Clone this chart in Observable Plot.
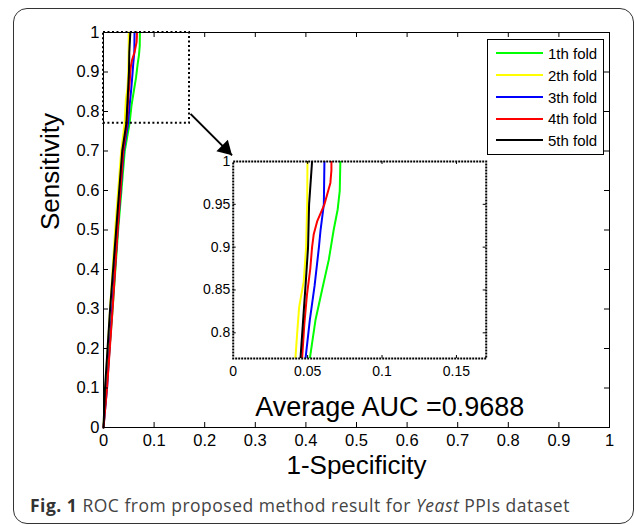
<!DOCTYPE html>
<html><head><meta charset="utf-8">
<script src="https://cdn.jsdelivr.net/npm/d3@7"></script>
<script src="https://cdn.jsdelivr.net/npm/@observablehq/plot@0.6"></script>
<style>
body{margin:0;background:#fff;}
#wrap{position:relative;width:634px;height:525px;overflow:hidden;font-family:Arial,"Liberation Sans",sans-serif;}
#border{position:absolute;left:13px;top:8px;width:621px;height:516px;box-sizing:border-box;border:1.5px solid #333;border-radius:14px;}
#main{position:absolute;left:0;top:0;}
#inset{position:absolute;left:190px;top:150px;}
#legend{position:absolute;left:487px;top:39px;width:117px;height:116px;box-sizing:border-box;border:1px solid #000;background:#fff;}
.row{position:absolute;left:8px;height:20px;display:flex;align-items:center;}
.sw{width:47px;height:2px;margin-right:5px;}
.lab{font-size:15px;color:#000;white-space:nowrap;}
#caption{position:absolute;left:30px;top:495px;font-family:"Open Sans",sans-serif;font-size:17.5px;letter-spacing:0.5px;line-height:20px;color:#444;white-space:nowrap;}
#caption b{color:#333;}
</style>
</head><body>
<div id="wrap">
  <div id="border"></div>
  <div id="main"></div>
  <div id="inset"></div>
  <div id="legend"></div>
  <div id="caption"><b>Fig. 1</b> ROC from proposed method result for <i>Yeast</i> PPIs dataset</div>
</div>
<script>
// ---- data ----
const foldNames = ["1th fold", "2th fold", "3th fold", "4th fold", "5th fold"];
const foldColors = ["#00ff00", "#ffff00", "#0000ff", "#ff0000", "#000000"];

const fold1Fpr = [0, 0.006, 0.018, 0.029, 0.042, 0.0515, 0.0553, 0.0597, 0.0642, 0.0675, 0.0702, 0.0716, 0.0720];
const fold1Tpr = [0, 0.1, 0.3, 0.5, 0.7, 0.77, 0.815, 0.85, 0.885, 0.92, 0.944, 0.966, 1];
const fold2Fpr = [0, 0.004, 0.013, 0.023, 0.035, 0.0418, 0.0430, 0.0443, 0.0474, 0.0490, 0.0497, 0.0499];
const fold2Tpr = [0, 0.1, 0.3, 0.5, 0.7, 0.77, 0.80, 0.83, 0.86, 0.90, 0.95, 1];
const fold3Fpr = [0, 0.007, 0.017, 0.028, 0.040, 0.0486, 0.0515, 0.0547, 0.0576, 0.0587, 0.0609, 0.0613];
const fold3Tpr = [0, 0.1, 0.3, 0.5, 0.7, 0.77, 0.815, 0.855, 0.90, 0.92, 0.95, 1];
const fold4Fpr = [0, 0.007, 0.018, 0.028, 0.039, 0.0463, 0.0478, 0.0496, 0.0518, 0.0530, 0.0541, 0.0564, 0.0613, 0.0653, 0.0660, 0.0660];
const fold4Tpr = [0, 0.1, 0.3, 0.5, 0.7, 0.77, 0.81, 0.845, 0.875, 0.90, 0.915, 0.93, 0.95, 0.975, 0.99, 1];
const fold5Fpr = [0, 0.003, 0.013, 0.025, 0.037, 0.0452, 0.0472, 0.0488, 0.0503, 0.0510, 0.0522, 0.0530];
const fold5Tpr = [0, 0.1, 0.3, 0.5, 0.7, 0.77, 0.82, 0.86, 0.90, 0.95, 0.98, 1];

const mainTicks = [0, 0.1, 0.2, 0.3, 0.4, 0.5, 0.6, 0.7, 0.8, 0.9, 1];
const mainTickLabels = ["0", "0.1", "0.2", "0.3", "0.4", "0.5", "0.6", "0.7", "0.8", "0.9", "1"];
const insetXTicks = [0, 0.05, 0.1, 0.15];
const insetXTickLabels = ["0", "0.05", "0.1", "0.15"];
const insetYTicks = [0.8, 0.85, 0.9, 0.95, 1];
const insetYTickLabels = ["0.8", "0.85", "0.9", "0.95", "1"];
const insetXDomain = [0, 0.17];
const insetYDomain = [0.77, 1];

const zoomBox = [{x1: 0, x2: 0.17, y1: 0.77, y2: 1}];
const arrowLine = [{x1: 0.172, y1: 0.794, x2: 0.254, y2: 0.689}];
const aucNote = [{x: 0.3, y: 0.03, label: "Average AUC =0.9688"}];
const xLabel = "1-Specificity";
const yLabel = "Sensitivity";

const folds = [
  [fold1Fpr, fold1Tpr], [fold2Fpr, fold2Tpr], [fold3Fpr, fold3Tpr],
  [fold4Fpr, fold4Tpr], [fold5Fpr, fold5Tpr]
];

const FONT = "Arial, 'Liberation Sans', sans-serif";
const fmt = (ticks, labels) => d => labels[ticks.indexOf(d)];

// ---- main plot ----
const W = 634, H = 490, ML = 103, MR = 25, MT = 32, MB = 63;
const FW = W - ML - MR, FH = H - MT - MB;
const innerTicks = mainTicks.slice(1, -1);

const curveMarks = (extra) => folds.map(([fpr, tpr], i) =>
  Plot.line({length: fpr.length}, {x: fpr, y: tpr, stroke: foldColors[i], strokeWidth: 2, ...extra}));

const main = Plot.plot({
  width: W, height: H,
  marginLeft: ML, marginRight: MR, marginTop: MT, marginBottom: MB,
  style: {fontFamily: FONT, background: "transparent", color: "#000"},
  x: {domain: [0, 1]},
  y: {domain: [0, 1]},
  marks: [
    ...curveMarks({}),
    Plot.frame({stroke: "#000", strokeWidth: 1}),
    Plot.tickX(innerTicks, {insetTop: FH - 5, stroke: "#000"}),
    Plot.tickX(innerTicks, {insetBottom: FH - 5, stroke: "#000"}),
    Plot.tickY(innerTicks, {insetRight: FW - 5, stroke: "#000"}),
    Plot.tickY(innerTicks, {insetLeft: FW - 5, stroke: "#000"}),
    Plot.rect(zoomBox, {x1: "x1", x2: "x2", y1: "y1", y2: "y2", fill: "none", stroke: "#000", strokeWidth: 2, strokeDasharray: "2,2.5"}),
    Plot.link(arrowLine, {x1: "x1", y1: "y1", x2: "x2", y2: "y2", stroke: "#000", strokeWidth: 2}),
    Plot.dot(arrowLine, {x: "x2", y: "y2", symbol: "triangle", r: 6, rotate: 135, fill: "#000", stroke: "none", dx: -6.6, dy: -6.6}),
    Plot.axisX(mainTicks, {anchor: "bottom", tickSize: 0, tickPadding: 7, fontSize: 16.5, tickFormat: fmt(mainTicks, mainTickLabels), label: null}),
    Plot.axisY(mainTicks, {anchor: "left", tickSize: 0, tickPadding: 4, fontSize: 16.5, tickFormat: fmt(mainTicks, mainTickLabels), label: null}),
    Plot.text(aucNote, {x: "x", y: "y", text: "label", textAnchor: "start", lineAnchor: "bottom", fontSize: 27, fill: "#000"}),
    Plot.text([xLabel], {frameAnchor: "bottom", dy: 46, lineAnchor: "bottom", fontSize: 26, fill: "#000"}),
    Plot.text([yLabel], {frameAnchor: "left", rotate: -90, dx: -45, lineAnchor: "bottom", fontSize: 26, fill: "#000"})
  ]
});
document.getElementById("main").appendChild(main);

// ---- inset plot ----
const IW = 300, IH = 230, IML = 42.7, IMR = 4.3, IMT = 11, IMB = 22;
const IFW = IW - IML - IMR, IFH = IH - IMT - IMB;
const inset = Plot.plot({
  width: IW, height: IH,
  marginLeft: IML, marginRight: IMR, marginTop: IMT, marginBottom: IMB,
  style: {fontFamily: FONT, background: "transparent", color: "#000"},
  x: {domain: insetXDomain},
  y: {domain: insetYDomain},
  marks: [
    Plot.frame({fill: "#fff", stroke: "none"}),
    ...curveMarks({clip: true}),
    Plot.frame({stroke: "#000", strokeWidth: 2, strokeDasharray: "2,1"}),
    Plot.tickX(insetXTicks.slice(1), {insetTop: IFH - 3, stroke: "#000"}),
    Plot.tickX(insetXTicks.slice(1), {insetBottom: IFH - 3, stroke: "#000"}),
    Plot.tickY(insetYTicks.slice(0, -1), {insetRight: IFW - 3, stroke: "#000"}),
    Plot.tickY(insetYTicks.slice(0, -1), {insetLeft: IFW - 3, stroke: "#000"}),
    Plot.axisX(insetXTicks, {anchor: "bottom", tickSize: 0, tickPadding: 8, fontSize: 14, tickFormat: fmt(insetXTicks, insetXTickLabels), label: null}),
    Plot.axisY(insetYTicks, {anchor: "left", tickSize: 0, tickPadding: 3, fontSize: 14, tickFormat: fmt(insetYTicks, insetYTickLabels), label: null})
  ]
});
document.getElementById("inset").appendChild(inset);

// ---- legend ----
const legend = document.getElementById("legend");
const rowCenters = [13, 35, 57, 78.5, 100];
foldNames.forEach((name, i) => {
  const row = document.createElement("div");
  row.className = "row";
  row.style.top = (rowCenters[i] - 10) + "px";
  row.innerHTML = `<div class="sw" style="background:${foldColors[i]}"></div><span class="lab">${name}</span>`;
  legend.appendChild(row);
});
</script>
</body></html>
